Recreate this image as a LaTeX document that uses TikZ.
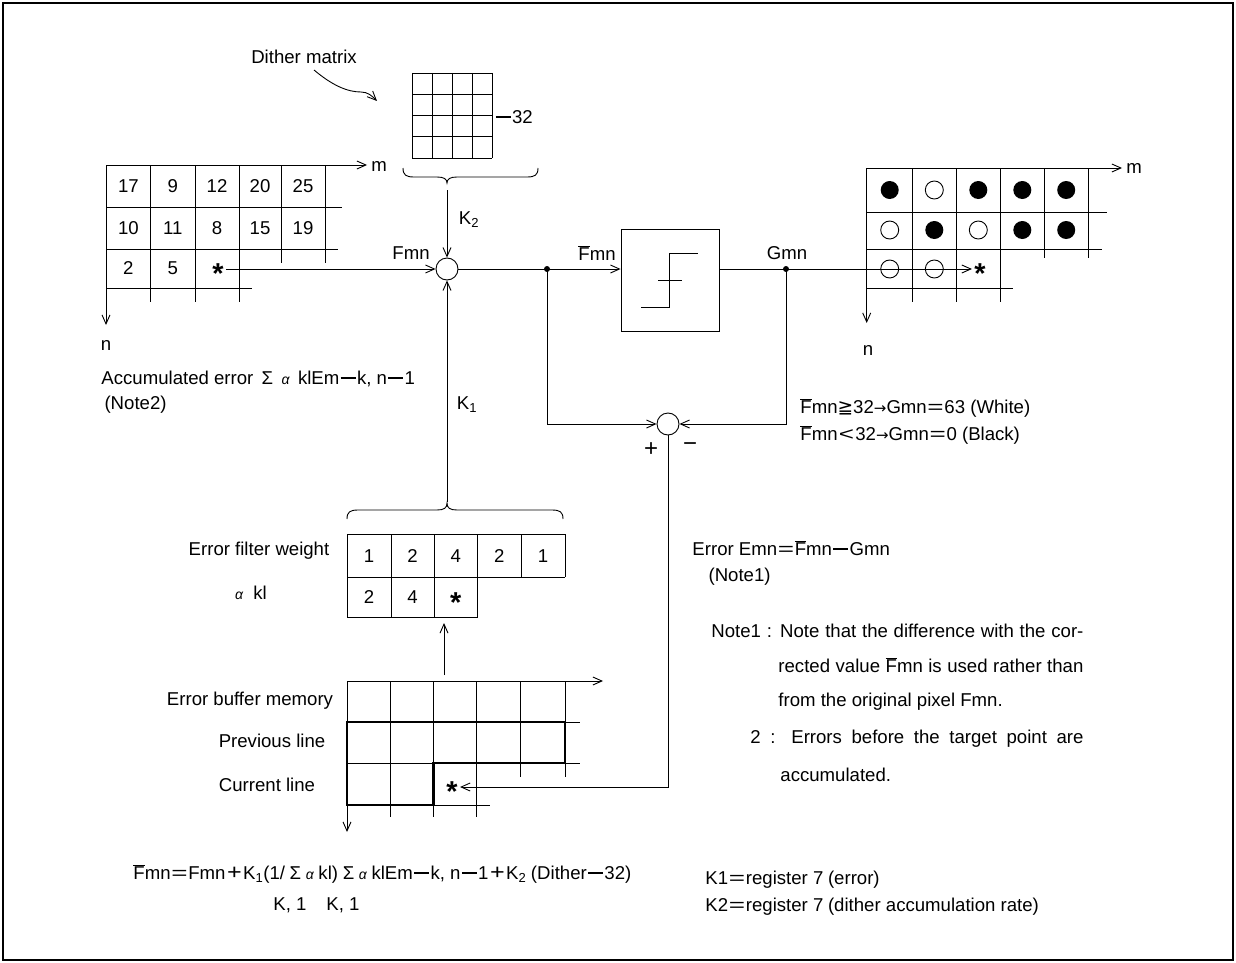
\documentclass[tikz,border=0pt]{standalone}
\usepackage{graphicx}
\usepackage{fontspec}
\setmainfont{Liberation Sans}
\newfontfamily\djv{DejaVu Sans}
\usetikzlibrary{arrows.meta}
\newcommand{\Fbar}{\leavevmode\hbox{\vbox{\hrule height0.7pt width0.6em\kern1.3pt\hbox{F}}}}
\newcommand{\alp}{{\fontsize{14}{14}\selectfont\itshape α}}
\newcommand{\weq}{\makebox[0.95em]{\scalebox{1.5}[1]{=}}}
\newcommand{\wmi}{\makebox[0.95em]{\rule[0.3em]{0.8em}{0.09em}}}
\newcommand{\wpl}{\makebox[0.95em]{\scalebox{1.35}[1.15]{+}}}
\newcommand{\wlt}{\makebox[0.95em]{\scalebox{1.4}[1]{<}}}
\newcommand{\spc}{\hspace{0.45em}}
\newcommand{\ssp}{\hspace{0.25em}}
\newcommand{\rarr}{{\djv\fontsize{15}{15}\selectfont →}}
\newcommand{\stk}{\bfseries\scalebox{1.55}{*}}
\begin{document}
\begin{tikzpicture}[x=1pt,y=-1pt,font=\fontsize{18.6}{21}\selectfont,line width=0.9pt,
  >={Straight Barb[length=9pt,width=8pt]},
  txt/.style={inner sep=0pt},
  sumc/.style={circle,draw,minimum size=22pt,inner sep=0pt},
  dotc/.style={circle,fill,inner sep=0pt,minimum size=6pt},
  pixf/.style={circle,fill,inner sep=0pt,minimum size=18pt},
  pixo/.style={circle,draw,inner sep=0pt,minimum size=18pt},
  starn/.style={inner sep=2pt},
  thickln/.style={line width=2.4pt}]
\useasboundingbox (0,0) rectangle (1236,963);
\draw[line width=1.4pt] (3,3) rectangle (1233,960);

% ---------- left input grid ----------
\draw[->] (106,165) -- (367,165);
\node[txt] (lm) at (379,166) {m};
\draw[->] (106,165) -- (106,325);
\node[txt] (ln) at (106,345) {n};
\draw (106,207) -- (342,207);
\draw (106,249) -- (338,249);
\draw (106,288) -- (252,288);
\foreach \x in {150.7,195,239} \draw (\x,165) -- (\x,302);
\foreach \x in {281,325} \draw (\x,165) -- (\x,263);
\foreach \v/\x/\y in {17/128.4/186,9/172.9/186,12/217/186,20/260/186,25/303/186,
                      10/128.4/228,11/172.9/228,8/217/228,15/260/228,19/303/228,
                      2/128.4/268.5,5/172.9/268.5}
  \node[txt] at (\x,\y) {\v};
\node[starn] (lstar) at (218,274) {\stk};
\node[txt,anchor=west] (accerr) at (101,379) {Accumulated error\spc Σ\spc\alp\spc klEm\wmi k, n\wmi 1};
\node[txt,anchor=west] (note2) at (101,405) {\,(Note2)};

% ---------- dither matrix ----------
\node[txt] (dlbl) at (304,57) {Dither matrix};
\coordinate (dstart) at (314,70);
\coordinate (dend) at (377,101);
\draw[->] (dstart) .. controls (333,86) and (348,92) .. (361,92) .. controls (368,92) and (372,96) .. (dend);
\foreach \x in {412,432,452,472,492} \draw (\x,73) -- (\x,158);
\foreach \y in {73,94.25,115.5,136.75,158} \draw (412,\y) -- (492,\y);
\node[txt,anchor=west] (m32) at (494,117) {\wmi 32};
\draw (403,168) .. controls (403,175) and (406,177) .. (414,177) -- (437,177)
      .. controls (444,177) and (447,179) .. (447,183) .. controls (447,179) and (450,177) .. (457,177)
      -- (527,177) .. controls (535,177) and (538,175) .. (538,168);
\coordinate (k2top) at (447,190);

% ---------- main signal path ----------
\node[sumc] (sum1) at (447,269) {};
\node[txt] (fmn) at (411,253) {Fmn};
\node[txt] (k2) at (469,220) {K\textsubscript{2}};
\draw[->] (k2top) -- (sum1.north);
\draw[->] (lstar.east |- sum1.west) -- (sum1.west);
\coordinate (d1) at (547,269);
\coordinate (d2) at (786,269);
\node[draw,minimum width=98pt,minimum height=102pt,inner sep=0pt] (quant) at (670,280) {};
\draw (641,307) -- (669,307) -- (669,253) -- (698,253);
\draw (658,280) -- (682,280);
\node[txt] (fbl) at (597,253) {\Fbar mn};
\node[txt] (gmn) at (787,253) {Gmn};
\draw (sum1.east) -- (d1);
\draw[->] (d1) -- (d1 -| quant.west);
\draw (d2 -| quant.east) -- (d2);
\node[dotc] at (d1) {};
\node[dotc] at (d2) {};

% ---------- error computation ----------
\node[sumc] (sum2) at (668,424) {};
\draw[->] (d1) |- (sum2.west);
\draw[->] (d2) |- (sum2.east);
\node[txt,font=\fontsize{24}{24}\selectfont] (plus) at (651,450) {+};
\node[txt,font=\fontsize{24}{24}\selectfont] (minus) at (690,447) {−};
\node[txt,anchor=west] (rule1) at (800,408) {\Fbar mn{\djv ≧}32\rarr Gmn\weq 63 (White)};
\node[txt,anchor=west] (rule2) at (800,435) {\Fbar mn\wlt 32\rarr Gmn\weq 0 (Black)};

% ---------- right output grid ----------
\draw[->] (866.7,168) -- (1122,168);
\node[txt] (rm) at (1134,168) {m};
\draw[->] (866.7,168) -- (866.7,323);
\node[txt] (rn) at (868,350) {n};
\draw (866.7,212) -- (1107,212);
\draw (866.7,249) -- (1102,249);
\draw (866.7,288) -- (1013,288);
\foreach \x in {912.7,956,1000.7} \draw (\x,168) -- (\x,302);
\foreach \x in {1044,1088.3} \draw (\x,168) -- (\x,258);
\foreach \x/\s in {889.7/pixf,934.3/pixo,978.3/pixf,1022.3/pixf,1066.2/pixf}
  \node[\s] at (\x,190) {};
\foreach \x/\s in {889.7/pixo,934.3/pixf,978.3/pixo,1022.3/pixf,1066.2/pixf}
  \node[\s] at (\x,230) {};
\foreach \x in {889.7,934.3} \node[pixo] at (\x,269) {};
\node[starn] (rstar) at (980,274) {\stk};
\draw[->] (d2) -- (d2 -| rstar.west);

% ---------- K1 feedback ----------
\node[txt] (k1) at (467,405) {K\textsubscript{1}};
\draw (347,519) .. controls (347,512) and (350,510) .. (358,510) -- (437,510)
      .. controls (444,510) and (447,508) .. (447,503) .. controls (447,508) and (450,510) .. (457,510)
      -- (552,510) .. controls (560,510) and (563,512) .. (563,519);
\coordinate (k1bot) at (447,502);
\draw[->] (k1bot) -- (sum1.south);

% ---------- error filter weight ----------
\foreach \x in {347,391,434,477.5,521,565} \draw (\x,534) -- (\x,577);
\foreach \x in {347,391,434,477.5} \draw (\x,577) -- (\x,617);
\draw (347,534) -- (565,534);
\draw (347,577) -- (565,577);
\draw (347,617) -- (477.5,617);
\foreach \v/\x in {1/369,2/412.5,4/455.7,2/499.2,1/543}
  \node[txt] at (\x,556) {\v};
\node[txt] at (369,597) {2};
\node[txt] at (412.5,597) {4};
\node[txt] (fstar) at (455.7,603) {\stk};
\node[txt] (efw) at (259,551) {Error filter weight};
\node[txt] (akl) at (251,593) {\alp\ \ kl};
\coordinate (buftop) at (444,675);
\coordinate (filtbot) at (444,623);
\draw[->] (buftop) -- (filtbot);

% ---------- error buffer memory ----------
\draw[->] (347,681) -- (603,681);
\draw[->] (347,681) -- (347,832);
\draw (347,722) -- (580,722);
\draw (347,763) -- (580,763);
\draw (347,805) -- (490,805);
\foreach \x in {390,433.3,476.7} \draw (\x,681) -- (\x,817);
\foreach \x in {520.7,565} \draw (\x,681) -- (\x,777);
\draw[thickln] (347,722) -- (565,722) -- (565,763) -- (433.3,763) -- (433.3,805) -- (347,805) -- cycle;
\node[txt] (ebm) at (250,701) {Error buffer memory};
\node[txt] (prl) at (272,741) {Previous line};
\node[txt] (cul) at (267,785) {Current line};
\node[starn] (bstar) at (452,792) {\stk};
\draw[->] (sum2.south) |- (bstar.east |- 0,787);

% ---------- formulas and notes ----------
\node[txt,anchor=west] (formula) at (133,874) {\Fbar mn\weq Fmn\wpl K\textsubscript{1}(1/\ssp Σ\ssp\alp\ssp kl)\ssp Σ\ssp\alp\ssp klEm\wmi k, n\wmi 1\wpl K\textsubscript{2}\ssp(Dither\wmi 32)};
\node[txt,anchor=west] (sub1) at (273,905) {K, 1};
\node[txt,anchor=west] (sub2) at (326,905) {K, 1};

\node[txt,anchor=west] (errE) at (692,548) {Error Emn\weq\Fbar mn\wmi Gmn};
\node[txt,anchor=west] (note1a) at (705,577) {\,(Note1)};
\node[txt,anchor=west] (n1) at (711,631) {\makebox[372pt][s]{Note1 : Note that the difference with the cor-}};
\node[txt,anchor=west] (n2) at (778,665) {\makebox[305pt][s]{rected value \Fbar mn is used rather than}};
\node[txt,anchor=west] (n3) at (778,702) {from the original pixel Fmn.};
\node[txt,anchor=west] (n4) at (750,739) {\makebox[333pt][s]{2 : Errors before the target point are}};
\node[txt,anchor=west] (n5) at (780,775) {accumulated.};

\node[txt,anchor=west] (kk1) at (705,880) {K1\weq register 7\hspace{0.25em}(error)};
\node[txt,anchor=west] (kk2) at (705,907) {K2\weq register 7\hspace{0.25em}(dither accumulation rate)};
\end{tikzpicture}
\end{document}
